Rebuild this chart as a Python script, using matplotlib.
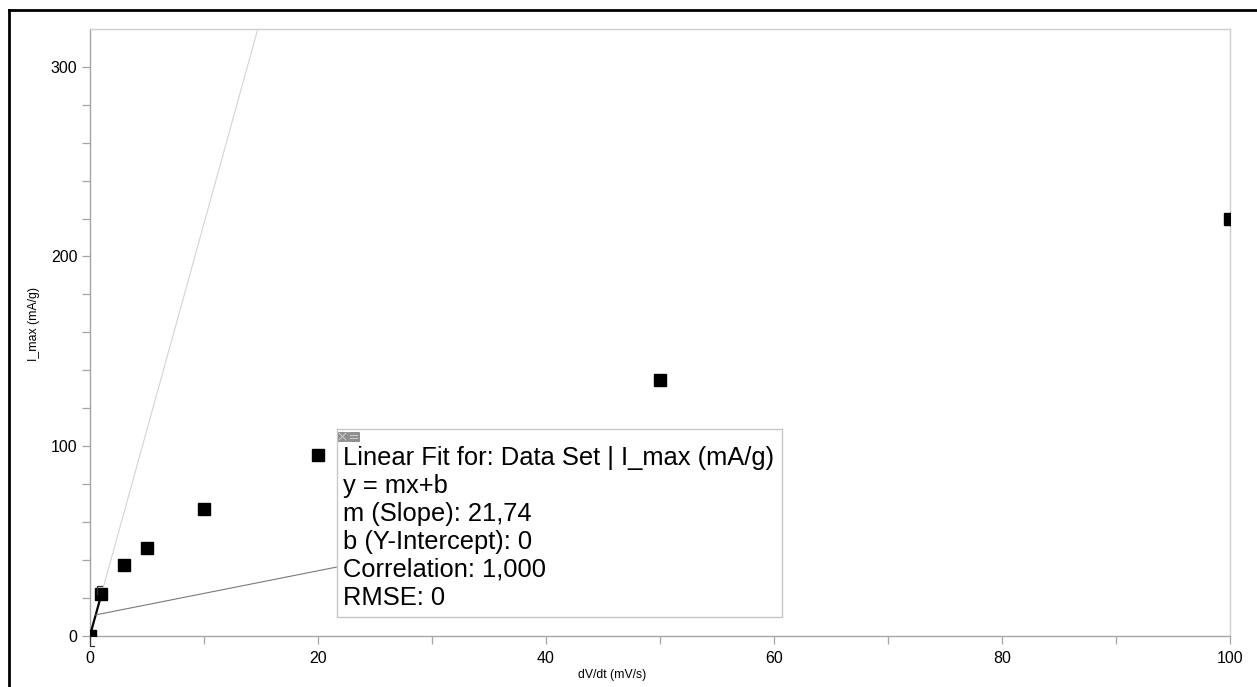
import matplotlib
matplotlib.use("Agg")
import matplotlib.pyplot as plt
from matplotlib.patches import Rectangle
import numpy as np

plt.rcParams['font.family'] = ['Liberation Sans', 'DejaVu Sans']

# Scan rate (mV/s) and peak current (mA/g)
scan_rate = [0, 1, 3, 5, 10, 20, 50, 100]
i_max = [0, 21.74, 37, 46, 67, 95, 135, 220]

# Linear fit over the selected range
fit_range = [0, 1]
slope = 21.74
intercept = 0

x_ticks = [0, 20, 40, 60, 80, 100]
y_ticks = [0, 100, 200, 300]

fit_lines = [
    "Linear Fit for: Data Set | I_max (mA/g)",
    "y = mx+b",
    "m (Slope): 21,74",
    "b (Y-Intercept): 0",
    "Correlation: 1,000",
    "RMSE: 0",
]

W, H = 1257, 687
fig = plt.figure(figsize=(W / 100, H / 100), dpi=100)


def fx(px):
    return px / W


def fy(py):
    return 1 - py / H


def fig_line(xs, ys, **kw):
    fig.add_artist(plt.Line2D([fx(v) for v in xs], [fy(v) for v in ys],
                              transform=fig.transFigure, **kw))


# outer frame
fig_line([9, 9], [10, H + 5], color='black', lw=2.0)
fig_line([9, W + 5], [10, 10], color='black', lw=2.0)

ax = fig.add_axes([90 / W, 51.5 / H, 1140 / W, 606.5 / H])
ax.set_xlim(0, 100)
ax.set_ylim(0, 320)

# extended fit (light) and fitted segment (dark)
xx = np.array([0, 100])
ax.plot(xx, slope * xx + intercept, color='#d4d4d4', lw=0.8, zorder=1)
xf = np.array(fit_range)
ax.plot(xf, slope * xf + intercept, color='black', lw=1.6, zorder=3)

# data
ax.plot(scan_rate, i_max, linestyle='none', marker='s', markersize=9.3,
        color='black', zorder=4)

# spines and ticks
for s in ['left', 'bottom']:
    ax.spines[s].set_color('#a6a6a6')
    ax.spines[s].set_linewidth(1.0)
for s in ['top', 'right']:
    ax.spines[s].set_color('#d0d0d0')
    ax.spines[s].set_linewidth(1.0)

ax.set_xticks(x_ticks)
ax.set_yticks(y_ticks)
ax.set_xticks(np.arange(10, 100, 20), minor=True)
ax.set_yticks([v for v in range(20, 320, 20) if v % 100], minor=True)
ax.tick_params(which='both', direction='out', color='#a6a6a6', labelsize=11.5,
               length=6, width=0.9)
ax.tick_params(axis='x', pad=5)
ax.tick_params(axis='y', pad=3)

fig.text(fx(612), fy(675), "dV/dt (mV/s)", fontsize=8.8, ha='center', va='center')
fig.text(fx(34), fy(324), "I_max (mA/g)", fontsize=8.8, ha='center', va='center',
         rotation=90)

fig.canvas.draw()


# fit range brackets, offsets in pixels from the range end points
def bracket(xd, yd, pts):
    bx, by = ax.transData.transform((xd, yd))
    ax.plot([bx + p[0] for p in pts], [by + p[1] for p in pts],
            color='#333333', lw=0.9, clip_on=False, transform=None, zorder=5)


bracket(fit_range[0], slope * fit_range[0] + intercept, [(0, 0), (0, -10), (4, -10)])
bracket(fit_range[1], slope * fit_range[1] + intercept, [(-4, 0), (-4, 8), (1, 8)])

# fit info box
bx0, bx1 = 337, 782
by_top, by_bot = 429, 617
fig.add_artist(Rectangle((fx(bx0), fy(by_bot)), (bx1 - bx0) / W, (by_bot - by_top) / H,
                         transform=fig.transFigure, facecolor='white', edgecolor='#c8c8c8',
                         lw=1.0, zorder=5))
# small close / collapse icons on the box corner
for i in range(2):
    x0 = bx0 + 1 + i * 11
    fig.add_artist(Rectangle((fx(x0), fy(441)), 10 / W, 9 / H,
                             transform=fig.transFigure, facecolor='#8f8f8f',
                             edgecolor='#7a7a7a', lw=0.5, zorder=6))
fig_line([339, 346], [433, 440], color='#cfcfcf', lw=0.7, zorder=7)
fig_line([339, 346], [440, 433], color='#cfcfcf', lw=0.7, zorder=7)
fig_line([350, 357], [435, 435], color='#cfcfcf', lw=0.7, zorder=7)
fig_line([350, 357], [438, 438], color='#cfcfcf', lw=0.7, zorder=7)

# leader line from the fitted segment to the box
xm = 0.5 * (fit_range[0] + fit_range[1])
p0 = ax.transData.transform((xm, slope * xm + intercept))
fig_line([p0[0], bx0], [H - p0[1], 567], color='#7a7a7a', lw=0.8, zorder=4)

for i, line in enumerate(fit_lines):
    fig.text(fx(bx0 + 6), fy(458 + i * 28), line, fontsize=18.4,
             ha='left', va='center', color='black', zorder=8)

fig.savefig("out.png", dpi=100)
